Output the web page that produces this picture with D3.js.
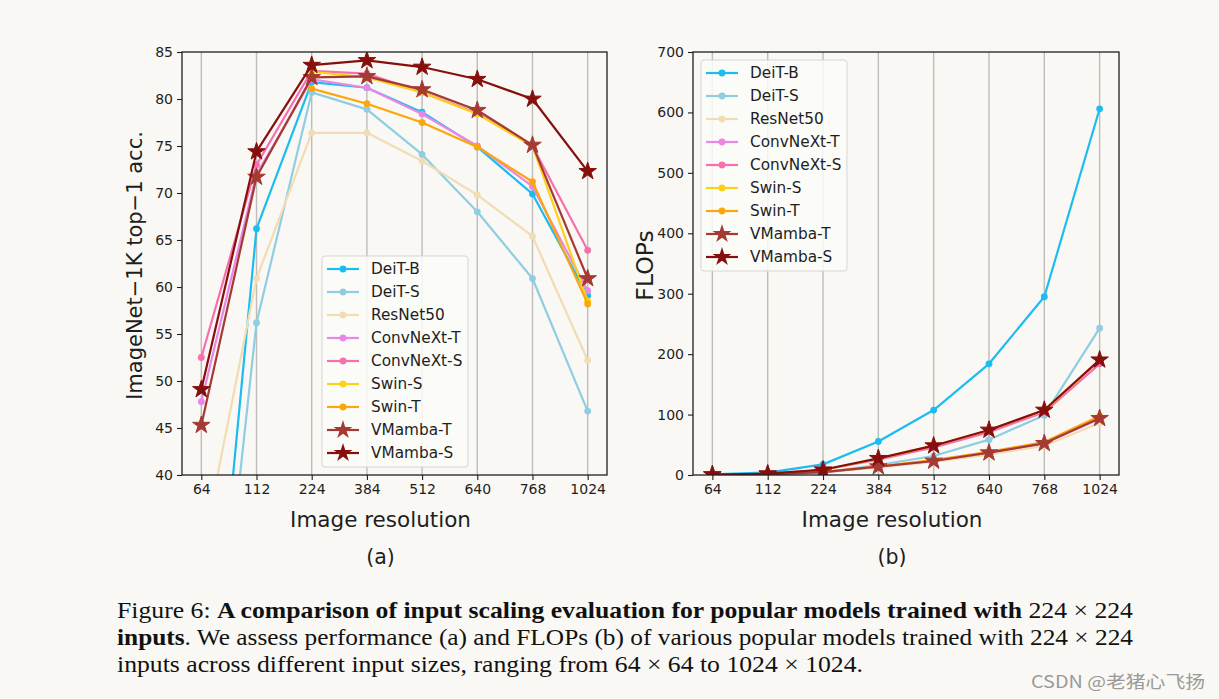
<!DOCTYPE html>
<html>
<head>
<meta charset="utf-8">
<script src="https://cdn.jsdelivr.net/npm/d3@7"></script>
<style>
html,body{margin:0;padding:0;background:#f9f8f4;}
svg{display:block;}
</style>
</head>
<body>
<svg id="chart" width="1219" height="699"></svg>
<script>
// ---------- data ----------
const resolutions = ["64","112","224","384","512","640","768","1024"];
const seriesNames = ["DeiT-B","DeiT-S","ResNet50","ConvNeXt-T","ConvNeXt-S","Swin-S","Swin-T","VMamba-T","VMamba-S"];
const seriesColors = ["#1cbcf0","#8fcde3","#f2dcb4","#ea86e6","#f66fae","#fbd11a","#fca60c","#a53a33","#860f0d"];
const seriesMarkers = ["circle","circle","circle","circle","circle","circle","circle","star","star"];

// top-1 accuracy (a)
const accDeiTB     = [4.5, 66.2, 81.8, 81.2, 78.6, 74.9, 69.9, 59.1];
const accDeiTS     = [2.0, 56.2, 80.7, 78.9, 74.1, 68.0, 60.9, 46.8];
const accResNet50  = [31.3, 60.9, 76.4, 76.4, 73.4, 69.8, 65.4, 52.2];
const accConvNeXtT = [47.8, 72.0, 82.1, 81.2, 78.4, 75.0, 70.7, 59.6];
const accConvNeXtS = [52.5, 73.0, 83.0, 82.7, 80.7, 78.5, 75.0, 63.9];
const accSwinS     = [null, null, 82.9, 82.3, 80.7, 78.4, 75.0, 58.5];
const accSwinT     = [null, null, 81.1, 79.5, 77.5, 74.9, 71.2, 58.2];
const accVMambaT   = [45.3, 71.7, 82.3, 82.4, 81.0, 78.8, 75.1, 60.9];
const accVMambaS   = [49.1, 74.4, 83.6, 84.1, 83.4, 82.1, 80.0, 72.3];

// FLOPs (b)
const flopsDeiTB     = [1.2, 4.0, 17.6, 55.5, 107.5, 184, 295, 606];
const flopsDeiTS     = [0.4, 1.2, 4.6, 16.5, 31.5, 58.5, 99, 243];
const flopsResNet50  = [0.35, 1.0, 4.1, 12.6, 21.5, 33.5, 48.5, 86];
const flopsConvNeXtT = [0.4, 1.1, 4.5, 13.8, 23.2, 37, 52.5, 93];
const flopsConvNeXtS = [0.7, 2.2, 8.7, 25.5, 45.5, 71, 104, 184];
const flopsSwinS     = [null, null, 8.7, 27, 48.5, 74.5, 107, 190];
const flopsSwinT     = [null, null, 4.5, 14.5, 24.5, 38.5, 54.5, 97.5];
const flopsVMambaT   = [0.4, 1.2, 4.9, 13.8, 23.2, 36.9, 52.4, 93.8];
const flopsVMambaS   = [0.7, 2.2, 8.7, 27.6, 48.5, 74.5, 107.5, 190.6];

const accTicks = [40,45,50,55,60,65,70,75,80,85];
const flopsTicks = [0,100,200,300,400,500,600,700];

const accData = [accDeiTB, accDeiTS, accResNet50, accConvNeXtT, accConvNeXtS, accSwinS, accSwinT, accVMambaT, accVMambaS];
const flopsData = [flopsDeiTB, flopsDeiTS, flopsResNet50, flopsConvNeXtT, flopsConvNeXtS, flopsSwinS, flopsSwinT, flopsVMambaT, flopsVMambaS];

// ---------- drawing ----------
const svg = d3.select("#chart");
const FONT = "DejaVu Sans, sans-serif";
const INK = "#1e1e1e";

function panel(opts){
  const {x0,x1,y0,y1,domain,ticks,data,ylabel,ylabelX,legendX,legendY,clipId,sub} = opts;
  const g = svg.append("g");
  const x = d3.scalePoint().domain(resolutions).range([x0,x1]).padding(0.35);
  const y = d3.scaleLinear().domain(domain).range([y1,y0]);

  g.append("clipPath").attr("id",clipId).append("rect")
    .attr("x",x0).attr("y",y0).attr("width",x1-x0).attr("height",y1-y0);

  // vertical grid
  g.append("g").selectAll("line").data(resolutions).join("line")
    .attr("x1",d=>x(d)).attr("x2",d=>x(d)).attr("y1",y0).attr("y2",y1)
    .attr("stroke","#bdbcb8").attr("stroke-width",1.4);

  // lines & markers
  const line = d3.line().defined(d=>d.v!=null).x(d=>x(d.r)).y(d=>y(d.v));
  const plot = g.append("g").attr("clip-path",`url(#${clipId})`);
  data.forEach((arr,i)=>{
    const pts = arr.map((v,j)=>({r:resolutions[j],v}));
    plot.append("path").datum(pts).attr("d",line)
      .attr("fill","none").attr("stroke",seriesColors[i]).attr("stroke-width",2.2)
      .attr("stroke-linejoin","round");
    const valid = pts.filter(d=>d.v!=null);
    if(seriesMarkers[i]==="star"){
      plot.selectAll(null).data(valid).join("path")
        .attr("d",d3.symbol(d3.symbolStar,95)())
        .attr("transform",d=>`translate(${x(d.r)},${y(d.v)})`)
        .attr("fill",seriesColors[i]).attr("stroke",seriesColors[i]).attr("stroke-width",1);
    } else {
      plot.selectAll(null).data(valid).join("circle")
        .attr("cx",d=>x(d.r)).attr("cy",d=>y(d.v)).attr("r",3.4)
        .attr("fill",seriesColors[i]);
    }
  });

  // axes
  const xa = g.append("g").attr("transform",`translate(0,${y1})`)
    .call(d3.axisBottom(x).tickSize(5).tickPadding(4));
  const ya = g.append("g").attr("transform",`translate(${x0},0)`)
    .call(d3.axisLeft(y).tickValues(ticks).tickSize(5).tickPadding(4));
  [xa,ya].forEach(a=>{
    a.select(".domain").remove();
    a.selectAll("line").attr("stroke",INK).attr("stroke-width",1.1);
    a.selectAll("text").attr("font-family",FONT).attr("font-size",14).attr("fill",INK);
  });
  // frame
  g.append("rect").attr("x",x0).attr("y",y0).attr("width",x1-x0).attr("height",y1-y0)
    .attr("fill","none").attr("stroke",INK).attr("stroke-width",1.3);

  // labels
  const cx = (x0+x1)/2 - 14;
  g.append("text").attr("x",cx).attr("y",y1+52).attr("text-anchor","middle")
    .attr("font-family",FONT).attr("font-size",21.5).attr("fill",INK).text("Image resolution");
  g.append("text").attr("x",cx).attr("y",y1+89).attr("text-anchor","middle")
    .attr("font-family",FONT).attr("font-size",20.5).attr("fill",INK).text(sub);
  g.append("text").attr("transform",`translate(${ylabelX},${(y0+y1)/2+2}) rotate(-90)`)
    .attr("text-anchor","middle").attr("font-family",FONT).attr("font-size",opts.ylabelSize).attr("fill",INK)
    .text(ylabel);

  // legend
  const lg = g.append("g").attr("transform",`translate(${legendX},${legendY})`);
  lg.append("rect").attr("x",0).attr("y",0).attr("width",146).attr("height",211).attr("rx",3)
    .attr("fill","#fcfbf8").attr("fill-opacity",0.85).attr("stroke","#d6d5d1").attr("stroke-width",1);
  seriesNames.forEach((n,i)=>{
    const yy = 13 + i*23;
    lg.append("line").attr("x1",5).attr("x2",37).attr("y1",yy).attr("y2",yy)
      .attr("stroke",seriesColors[i]).attr("stroke-width",2.2);
    if(seriesMarkers[i]==="star"){
      lg.append("path").attr("d",d3.symbol(d3.symbolStar,110)())
        .attr("transform",`translate(21,${yy})`).attr("fill",seriesColors[i]);
    } else {
      lg.append("circle").attr("cx",21).attr("cy",yy).attr("r",3.4).attr("fill",seriesColors[i]);
    }
    lg.append("text").attr("x",49).attr("y",yy).attr("dy","0.35em")
      .attr("font-family",FONT).attr("font-size",15.3).attr("fill",INK).text(n);
  });
}

panel({x0:182,x1:607,y0:52,y1:475,domain:[40,85],ticks:accTicks,data:accData,
  ylabel:"ImageNet\u22121K top\u22121 acc.",ylabelX:142,ylabelSize:21,legendX:322,legendY:256,clipId:"clipA",sub:"(a)"});
panel({x0:693,x1:1119,y0:52,y1:475,domain:[0,700],ticks:flopsTicks,data:flopsData,
  ylabel:"FLOPs",ylabelX:653,ylabelSize:23.5,legendX:701,legendY:60,clipId:"clipB",sub:"(b)"});

// caption
const cap = svg.append("g").attr("font-family","Liberation Serif, Times New Roman, serif")
  .attr("font-size",23).attr("fill","#111");
const l1 = cap.append("text").attr("x",117).attr("y",618).attr("textLength",1016).attr("lengthAdjust","spacingAndGlyphs");
l1.append("tspan").text("Figure 6: ");
l1.append("tspan").attr("font-weight","bold").text("A comparison of input scaling evaluation for popular models trained with");
l1.append("tspan").text(" 224 \u00d7 224");
const l2 = cap.append("text").attr("x",117).attr("y",645).attr("textLength",1016).attr("lengthAdjust","spacingAndGlyphs");
l2.append("tspan").attr("font-weight","bold").text("inputs");
l2.append("tspan").text(". We assess performance (a) and FLOPs (b) of various popular models trained with 224 \u00d7 224");
cap.append("text").attr("x",117).attr("y",672).attr("textLength",746).attr("lengthAdjust","spacingAndGlyphs")
  .text("inputs across different input sizes, ranging from 64 \u00d7 64 to 1024 \u00d7 1024.");

// watermark
svg.append("text").attr("x",1031).attr("y",688)
  .attr("textLength",174).attr("lengthAdjust","spacingAndGlyphs")
  .attr("font-family","Noto Sans CJK SC, sans-serif").attr("font-size",17).attr("fill","#9a9a9a")
  .text("CSDN @老猪心飞扬");
</script>
</body>
</html>
